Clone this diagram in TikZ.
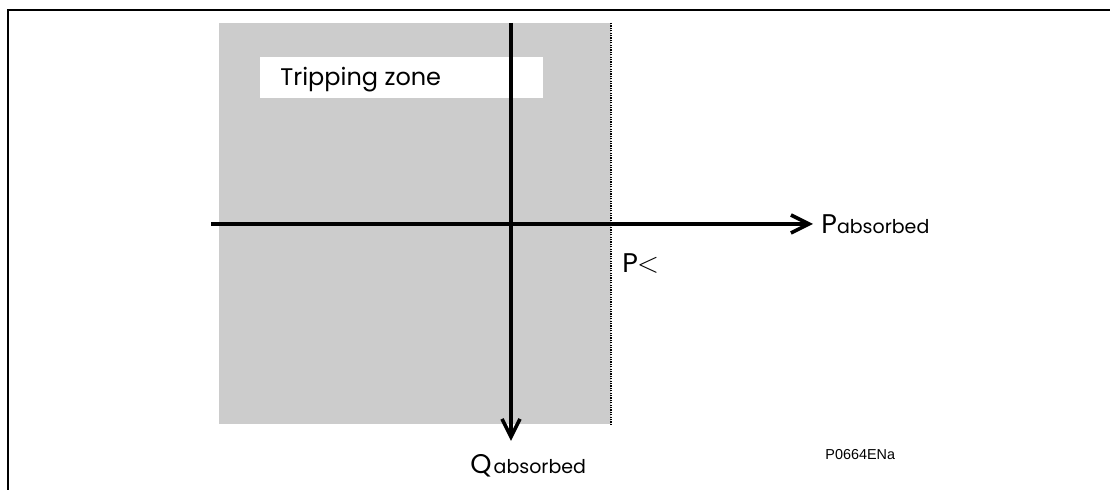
\documentclass[tikz,border=0pt]{standalone}
\usepackage{fontspec}
\setmainfont{Poppins}
\newfontfamily\refont{Liberation Sans}
\usetikzlibrary{arrows.meta,positioning}
\definecolor{TZgrey}{RGB}{204,204,204}
\definecolor{TZblack}{RGB}{0,0,0}
\tikzset{
  frame/.style={draw=TZblack,line width=1pt},
  zone/.style={fill=TZgrey,draw=none},
  limit/.style={draw=TZblack,line width=0.6pt,dash pattern=on 0.6pt off 0.6pt},
  axis/.style={-{Straight Barb[length=9pt,width=9pt,line width=1.8pt]},line width=1.8pt,draw=TZblack},
  tag/.style={fill=white,inner sep=0pt,minimum width=141.5pt,minimum height=20.5pt,text=TZblack},
  lbl/.style={inner sep=0pt,font=\fontsize{13.5}{15}\selectfont,text=TZblack},
  ref/.style={inner sep=0pt,font=\refont\fontsize{7.2}{9}\selectfont,text=TZblack}
}
\newcommand{\subtxt}[1]{{\fontsize{9.5}{11}\selectfont #1}}

\begin{document}
\begin{tikzpicture}[x=0.5pt,y=-0.5pt]
  \useasboundingbox (0,0) rectangle (1110,490);
  % frame
  \draw[frame] (8,490) -- (8,10) -- (1110,10);
  % tripping zone and P< limit
  \fill[zone] (219,23) rectangle (611,424);
  \coordinate (limtop) at (611,23);
  \coordinate (limbot) at (611,424);
  \draw[limit] (limtop) -- (limbot);
  \node[tag,anchor=north west] (zonebox) at (260,57) {};
  \node[lbl,font=\fontsize{12}{14}\selectfont,anchor=base west] (zonetxt) at (280,86) {Tripping zone};
  % axes
  \coordinate (qstart) at (511,23);
  \coordinate (qend) at (511,441);
  \coordinate (pstart) at (211,224);
  \coordinate (pend) at (813,224);
  \draw[axis] (pstart) -- (pend);
  \draw[axis] (qstart) -- (qend);
  % labels
  \node[lbl,anchor=base west] (plbl) at (821,234) {P\subtxt{absorbed}};
  \node[lbl,anchor=base west] (plim) at (622,273) {P\kern-0.5pt$<$};
  \node[lbl,anchor=base west] (qlbl) at (470,474) {Q\kern1pt\subtxt{absorbed}};
  \node[ref,anchor=base west] (figref) at (825,460) {P0664ENa};
\end{tikzpicture}
\end{document}
